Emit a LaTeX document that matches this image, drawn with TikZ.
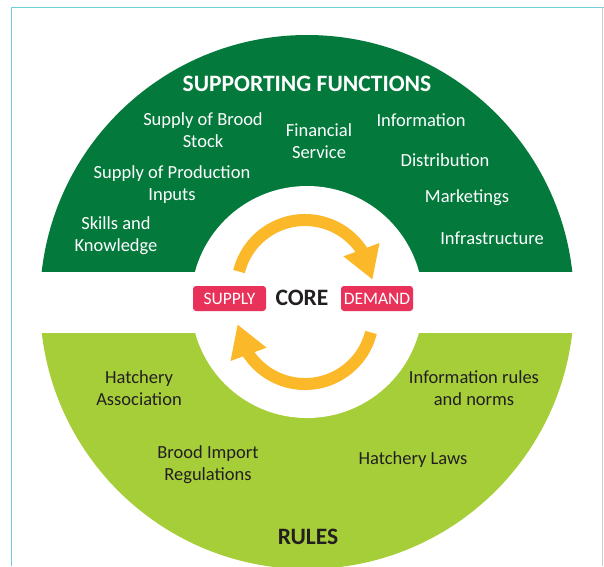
\documentclass[tikz,border=0pt]{standalone}
\usepackage{fontspec}
\setmainfont{Carlito}
\usetikzlibrary{positioning, arrows.meta, bending}
\definecolor{sfgreen}{HTML}{037A3C}
\definecolor{rulegreen}{HTML}{A6CE39}
\definecolor{cycyellow}{HTML}{FBB829}
\definecolor{mktpink}{HTML}{E9325A}
\definecolor{txtdark}{HTML}{231F20}
\definecolor{framecyan}{HTML}{6FCFDA}
\begin{document}
\begin{tikzpicture}[x=1pt,y=1pt]
	\tikzstyle{label_w} = [text=white, align=center, inner sep=0, font=\fontsize{18.5}{22}\selectfont]
	\tikzstyle{label_d} = [text=txtdark, align=center, inner sep=0, font=\fontsize{18.5}{22}\selectfont]
	\tikzstyle{heading} = [inner sep=0, font=\bfseries\fontsize{23.5}{28}\selectfont]
	\tikzstyle{market} = [fill=mktpink, text=white, rounded corners=3pt, minimum width=73pt, minimum height=25pt, inner sep=0, font=\fontsize{17.5}{20}\selectfont]
	\tikzstyle{cyc_arrow} = [line width=12pt, draw=cycyellow, -{Triangle[length=32pt,width=36pt,flex]}]
	\useasboundingbox (0,0) rectangle (604,-566);
	% frame
	\draw [framecyan, line width=1pt] (11,-566) -- (11,-7) -- (604,-7);
	\draw [black!20, line width=1pt] (602,-7) -- (602,-566);
	% rings
	\coordinate (v_mid) at (307,-302);
	\begin{scope}
	\clip (0,0) rectangle (604,-271);
	\fill [sfgreen] (v_mid) circle (267);
	\end{scope}
	\begin{scope}
	\clip (0,-333) rectangle (604,-566);
	\fill [rulegreen] (v_mid) circle (267);
	\end{scope}
	\fill [white] (v_mid) circle (116);
	% supporting functions
	\node [heading, text=white] (v_sf) at (307,-84) {SUPPORTING FUNCTIONS};
	\node [label_w] (v1) at (203,-130) {Supply of Brood\\Stock};
	\node [label_w] (v2) at (319,-141) {Financial\\Service};
	\node [label_w] (v3) at (421,-120) {Information};
	\node [label_w] (v4) at (172,-185) {Supply of Production\\Inputs};
	\node [label_w] (v5) at (445,-160) {Distribution};
	\node [label_w] (v6) at (116,-236) {Skills and\\Knowledge};
	\node [label_w] (v7) at (467,-198) {Marketings};
	\node [label_w] (v8) at (492,-238) {Infrastructure};
	% core
	\coordinate (v_cyctop) at (305,-288);
	\coordinate (v_cycbot) at (305,-316);
	\draw [cyc_arrow] (v_cyctop) ++(166:68) arc (166:7:68);
	\draw [cyc_arrow] (v_cycbot) ++(-14:68) arc (-14:-173:68);
	\node [market] (v_supply) at (229.5,-298.5) {SUPPLY};
	\node [market, minimum width=72pt] (v_demand) at (377,-298.5) {DEMAND};
	\node [heading, text=txtdark] (v_core) at (302,-298) {CORE};
	% rules
	\node [label_d] (v9) at (139,-388) {Hatchery\\Association};
	\node [label_d] (v10) at (474,-388) {Information rules\\and norms};
	\node [label_d] (v11) at (208,-465) {Brood Import\\Regulations};
	\node [label_d] (v12) at (413,-460) {Hatchery Laws};
	\node [heading, text=txtdark] (v_rules) at (308,-537) {RULES};
\end{tikzpicture}
\end{document}
